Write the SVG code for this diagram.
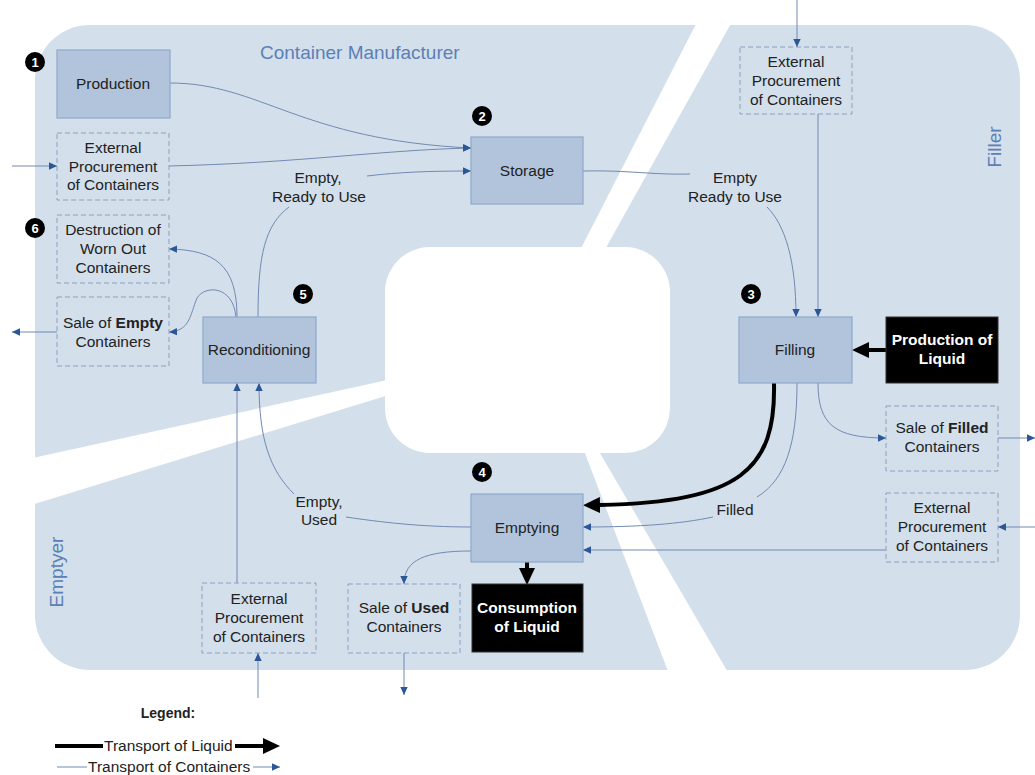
<svg xmlns="http://www.w3.org/2000/svg" width="1035" height="775" viewBox="0 0 1035 775">
<defs>
<style>
text{font-family:"Liberation Sans",Arial,sans-serif;font-size:15.5px;fill:#222;}
.c{text-anchor:middle;}
.b{font-weight:bold;}
.w{fill:#fff;font-weight:bold;}
.reg{font-size:19px;fill:#5b80b6;}
.solid{fill:#b1c4db;stroke:#8ea9cb;stroke-width:1.2;}
.dash{fill:none;stroke:#8b9fbf;stroke-width:1;stroke-dasharray:5,3;}
.blk{fill:#000;stroke:#333;stroke-width:1;}
.ln{fill:none;stroke:#7189b3;stroke-width:1;}
.arr{marker-end:url(#a);}
.thick{fill:none;stroke:#000;stroke-width:4;marker-end:url(#b);}
.num{fill:#000;}
.nt{fill:#fff;font-weight:bold;font-size:13px;text-anchor:middle;}
</style>
<marker id="a" markerWidth="9" markerHeight="9" refX="8" refY="4" orient="auto" markerUnits="userSpaceOnUse"><path d="M0,0.3 L8,4 L0,7.7 z" fill="#2b5797"/></marker>
<marker id="b" markerWidth="20" markerHeight="18" refX="0" refY="8" orient="auto" markerUnits="userSpaceOnUse"><path d="M0,0 L17,8 L0,16 z" fill="#000"/></marker>
</defs>

<g id="background">
<rect x="35" y="25" width="985" height="645" rx="55" fill="#d3dfeb"/>
<polygon points="698,20 733,20 598,262 574,262" fill="#fff"/>
<polygon points="28,459 28,506 392,394 392,379" fill="#fff"/>
<polygon points="583,448 597,448 729,674 669,674" fill="#fff"/>
<rect x="385" y="247" width="285" height="206" rx="45" fill="#fff"/>
<text class="reg" x="260" y="59">Container Manufacturer</text>
<text class="reg c" transform="translate(1001,147) rotate(-90)">Filler</text>
<text class="reg c" transform="translate(63,572) rotate(-90)">Emptyer</text>
</g>

<g id="connectors">
<path class="ln arr" d="M170,83 C260,83 300,140 471,148"/>
<path class="ln arr" d="M169,166 C300,163 380,150 471,148"/>
<path class="ln arr" d="M12,166 L57,166"/>
<path class="ln" d="M258,317 C258,255 265,225 289,207"/>
<path class="ln arr" d="M367,176 C400,172 430,171 471,171"/>
<path class="ln" d="M583,171 C630,170 650,175 690,174"/>
<path class="ln arr" d="M767,207 C785,225 796,260 796,317"/>
<path class="ln arr" d="M818,114 L818,317"/>
<path class="ln arr" d="M797,0 L797,47"/>
<path class="thick" d="M886,350 L869,350"/>
<path class="thick" d="M774,383 C776,470 740,502 600,505"/>
<path class="ln" d="M797,383 C797,445 785,480 757,497"/>
<path class="ln arr" d="M713,517 C680,524 640,527 583,527"/>
<path class="ln arr" d="M818,383 C818,425 835,438 886,438"/>
<path class="ln arr" d="M998,438 L1035,438"/>
<path class="ln arr" d="M1035,527 L998,527"/>
<path class="ln arr" d="M886,550 L583,550"/>
<path class="ln" d="M471,527 C420,527 380,522 346,517"/>
<path class="ln arr" d="M294,494 C270,470 259,440 259,383"/>
<path class="ln arr" d="M237,583 L237,383"/>
<path class="ln arr" d="M258,698 L258,653"/>
<path class="ln arr" d="M471,551 C425,551 404,560 404,584"/>
<path class="ln arr" d="M404,653 L404,695"/>
<path class="thick" d="M527,562 L527,568"/>
<path class="ln arr" d="M237,317 C237,265 215,250 169,249"/>
<path class="ln arr" d="M236,317 C233,285 205,285 197,298 C190,315 190,331 169,332"/>
<path class="ln arr" d="M57,332 L12,332"/>
</g>

<g id="production"><rect class="solid" x="57" y="50" width="113" height="68"/><text class="c" x="113" y="89">Production</text></g>
<g id="storage"><rect class="solid" x="471" y="137" width="112" height="67"/><text class="c" x="527" y="176">Storage</text></g>
<g id="filling"><rect class="solid" x="739" y="317" width="113" height="66"/><text class="c" x="795" y="355">Filling</text></g>
<g id="reconditioning"><rect class="solid" x="203" y="317" width="113" height="66"/><text class="c" x="259" y="355">Reconditioning</text></g>
<g id="emptying"><rect class="solid" x="471" y="494" width="112" height="68"/><text class="c" x="527" y="533">Emptying</text></g>
<g id="production-liquid"><rect class="blk" x="886" y="317" width="112" height="66"/><text class="c w" x="942" y="345">Production of</text><text class="c w" x="942" y="364">Liquid</text></g>
<g id="consumption-liquid"><rect class="blk" x="472" y="584" width="111" height="68"/><text class="c w" x="527" y="613">Consumption</text><text class="c w" x="527" y="632">of Liquid</text></g>

<g id="ext-proc-left"><rect class="dash" x="57" y="133" width="112" height="67"/><text class="c" x="113" y="153">External</text><text class="c" x="113" y="171.5">Procurement</text><text class="c" x="113" y="190">of Containers</text></g>
<g id="destruction"><rect class="dash" x="57" y="215" width="112" height="68"/><text class="c" x="113" y="235">Destruction of</text><text class="c" x="113" y="254">Worn Out</text><text class="c" x="113" y="273">Containers</text></g>
<g id="sale-empty"><rect class="dash" x="57" y="297" width="112" height="69"/><text class="c" x="113" y="328">Sale of <tspan class="b">Empty</tspan></text><text class="c" x="113" y="347">Containers</text></g>
<g id="ext-proc-top"><rect class="dash" x="740" y="47" width="112" height="67"/><text class="c" x="796" y="67">External</text><text class="c" x="796" y="86">Procurement</text><text class="c" x="796" y="105">of Containers</text></g>
<g id="sale-filled"><rect class="dash" x="886" y="406" width="112" height="65"/><text class="c" x="942" y="433">Sale of <tspan class="b">Filled</tspan></text><text class="c" x="942" y="452">Containers</text></g>
<g id="ext-proc-right"><rect class="dash" x="886" y="493" width="112" height="69"/><text class="c" x="942" y="513">External</text><text class="c" x="942" y="532">Procurement</text><text class="c" x="942" y="551">of Containers</text></g>
<g id="ext-proc-bottom"><rect class="dash" x="202" y="583" width="114" height="70"/><text class="c" x="259" y="604">External</text><text class="c" x="259" y="623">Procurement</text><text class="c" x="259" y="642">of Containers</text></g>
<g id="sale-used"><rect class="dash" x="348" y="584" width="112" height="69"/><text class="c" x="404" y="613">Sale of <tspan class="b">Used</tspan></text><text class="c" x="404" y="632">Containers</text></g>

<g id="labels">
<text class="c" x="318" y="183">Empty,</text><text class="c" x="319" y="202">Ready to Use</text>
<text class="c" x="735" y="183">Empty</text><text class="c" x="735" y="202">Ready to Use</text>
<text class="c" x="319" y="507">Empty,</text><text class="c" x="319" y="525">Used</text>
<text class="c" x="735" y="515">Filled</text>
</g>

<g id="badges">
<circle class="num" cx="35" cy="62" r="10"/><text class="nt" x="35" y="66.5">1</text>
<circle class="num" cx="482" cy="116" r="10"/><text class="nt" x="482" y="120.5">2</text>
<circle class="num" cx="751" cy="294" r="10"/><text class="nt" x="751" y="298.5">3</text>
<circle class="num" cx="482" cy="472" r="10"/><text class="nt" x="482" y="476.5">4</text>
<circle class="num" cx="303" cy="294" r="10"/><text class="nt" x="303" y="298.5">5</text>
<circle class="num" cx="35" cy="228" r="10"/><text class="nt" x="35" y="232.5">6</text>
</g>

<g id="legend">
<text class="c b" x="168" y="718" style="font-size:14px">Legend:</text>
<path d="M55,746 L103,746" stroke="#000" stroke-width="4" fill="none"/>
<text x="104" y="751">Transport of Liquid</text>
<path class="thick" d="M235,746 L263,746"/>
<path class="ln" d="M57,767 L87,767"/>
<text x="88" y="772">Transport of Containers</text>
<path class="ln arr" d="M253,767 L280,767"/>
</g>
</svg>
